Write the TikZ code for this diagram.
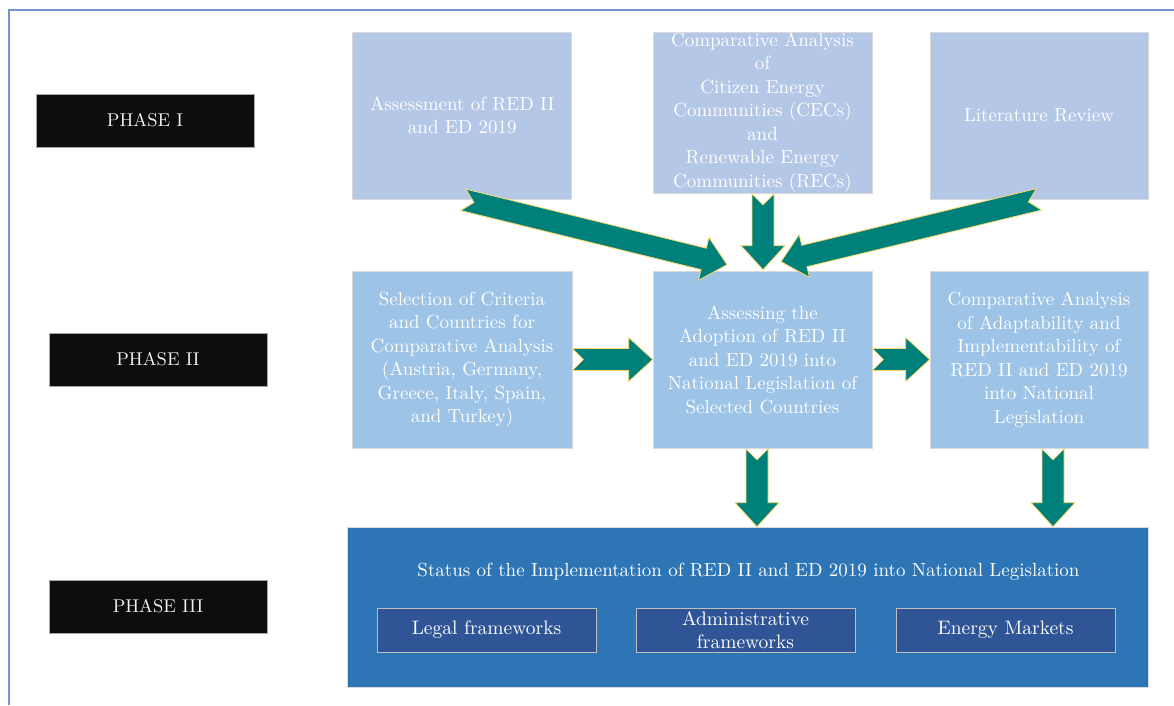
\documentclass[tikz,border=0pt]{standalone}
\usepackage{fontspec}
\setmainfont{lmroman10-regular.otf}
\usetikzlibrary{calc}
\definecolor{toprow}{RGB}{180,199,231}
\definecolor{midrow}{RGB}{157,195,230}
\definecolor{botbox}{RGB}{46,117,182}
\definecolor{subbox}{RGB}{47,85,151}
\definecolor{tealfill}{RGB}{0,128,122}
\definecolor{arrline}{RGB}{255,217,102}
\definecolor{framecol}{RGB}{114,147,212}
\definecolor{phasecol}{RGB}{13,13,13}
\newcommand{\blockarrow}[2]{%
  \draw[blockarr]
    ($(#1)!11pt!90:(#2)$) --
    ($(#2)!24pt!(#1)!11pt!90:(#2)$) --
    ($(#2)!24pt!(#1)!22pt!90:(#2)$) --
    (#2) --
    ($(#2)!24pt!(#1)!22pt!-90:(#2)$) --
    ($(#2)!24pt!(#1)!11pt!-90:(#2)$) --
    ($(#1)!11pt!-90:(#2)$) --
    ($(#1)!11pt!(#2)$) -- cycle;}
\begin{document}
\begin{tikzpicture}[x=1pt,y=-1pt,
  box/.style={draw=black!15, line width=0.7pt, inner sep=0pt, text=white,
    align=center, font=\fontsize{19}{23.5}\selectfont},
  topbox/.style={box, fill=toprow},
  midbox/.style={box, fill=midrow},
  phasebox/.style={fill=phasecol, draw=black!35, line width=0.8pt, inner sep=0pt,
    text=black!6, font=\fontsize{18.5}{22}\selectfont},
  subboxst/.style={fill=subbox, draw=black!25, line width=0.7pt, inner sep=0pt,
    text=white, align=center, font=\fontsize{19.5}{23.5}\selectfont,
    minimum width=219pt, minimum height=44pt},
  blockarr/.style={fill=tealfill, draw=arrline, line width=0.8pt, line join=miter},
  framest/.style={draw=framecol, line width=2pt}]
\useasboundingbox (0,0) rectangle (1174,705);
\draw[framest] (9,705) -- (9,10) -- (1174,10);

% phase labels
\node[phasebox, minimum width=218pt, minimum height=53pt] (p1) at (145,120.5) {PHASE I};
\node[phasebox, minimum width=218pt, minimum height=53pt] (p2) at (158,359.5) {PHASE II};
\node[phasebox, minimum width=218pt, minimum height=53pt] (p3) at (158,606.5) {PHASE III};

% top row
\node[topbox, minimum width=219pt, minimum height=167pt] (A) at (462.3,115.5)
  {Assessment of RED II\\and ED 2019};
\node[topbox, minimum width=219pt, minimum height=161pt] (B) at (762.5,112.5)
  {Comparative Analysis\\of\\Citizen Energy\\Communities (CECs)\\and\\Renewable Energy\\Communities (RECs)};
\node[topbox, minimum width=218pt, minimum height=167pt] (C) at (1039,115.5)
  {Literature Review};

% middle row
\node[midbox, minimum width=220pt, minimum height=177pt] (D) at (462,359.5)
  {Selection of Criteria\\and Countries for\\Comparative Analysis\\(Austria, Germany,\\Greece, Italy, Spain,\\and Turkey)};
\node[midbox, minimum width=219pt, minimum height=177pt] (E) at (762.5,359.5)
  {Assessing the\\Adoption of RED II\\and ED 2019 into\\National Legislation of\\Selected Countries};
\node[midbox, minimum width=218pt, minimum height=177pt] (F) at (1039,359.5)
  {Comparative Analysis\\of Adaptability and\\Implementability of\\RED II and ED 2019\\into National\\Legislation};

% bottom
\node[fill=botbox, draw=black!15, line width=0.7pt, minimum width=801pt,
  minimum height=160pt, inner sep=0pt] (G) at (747.5,607) {};
\node[text=white, font=\fontsize{19}{23.5}\selectfont, inner sep=0pt] (Gt) at (748.5,572)
  {Status of the Implementation of RED II and ED 2019 into National Legislation};
\node[subboxst] (S1) at (486.5,630) {Legal frameworks};
\node[subboxst] (S2) at (745.5,630) {Administrative\\frameworks};
\node[subboxst] (S3) at (1005.5,630) {Energy Markets};

% arrow end points
\coordinate (a1s) at ($(A.south)+(1,0.5)$);
\coordinate (a1e) at ($(E.north)+(-35.5,-6)$);
\coordinate (a2s) at ($(B.south)+(0.5,0.5)$);
\coordinate (a2e) at ($(E.north)+(0.5,-1)$);
\coordinate (a3s) at ($(C.south)+(0,0)$);
\coordinate (a3e) at ($(E.north)+(18.5,-9)$);
\coordinate (a4s) at (D.east);
\coordinate (a4e) at (E.west);
\coordinate (a5s) at (E.east);
\coordinate (a5e) at (F.west);
\coordinate (a6s) at ($(E.south)+(-5.5,0.5)$);
\coordinate (a6e) at (a6s |- G.north);
\coordinate (a7s) at ($(F.south)+(14,0.5)$);
\coordinate (a7e) at (a7s |- G.north);

\blockarrow{a1s}{a1e}
\blockarrow{a2s}{a2e}
\blockarrow{a3s}{a3e}
\blockarrow{a4s}{a4e}
\blockarrow{a5s}{a5e}
\blockarrow{a6s}{a6e}
\blockarrow{a7s}{a7e}
\end{tikzpicture}
\end{document}
